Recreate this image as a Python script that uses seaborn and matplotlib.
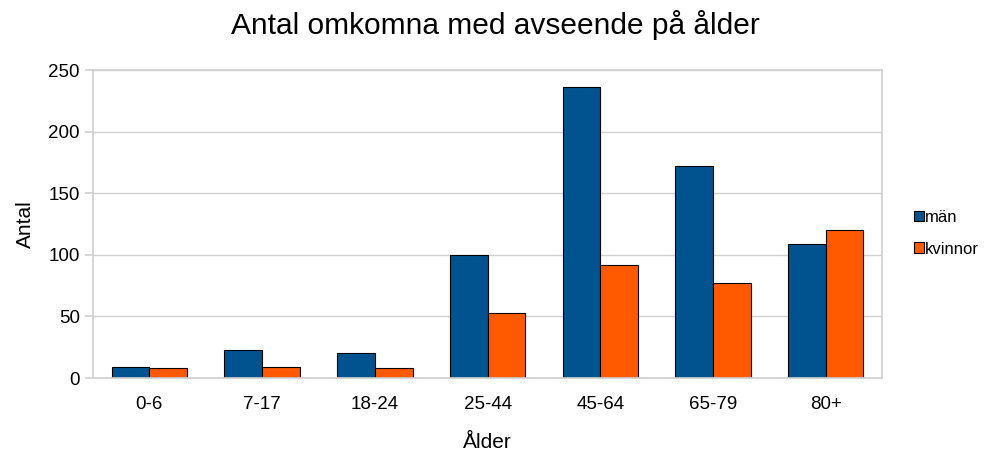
import pandas as pd
import matplotlib.pyplot as plt
import seaborn as sns
from matplotlib.patches import Patch

ages = ['0-6', '7-17', '18-24', '25-44', '45-64', '65-79', '80+']
man = [9, 23, 20, 100, 236, 172, 109]
kvinnor = [8, 9, 8, 53, 92, 77, 120]
series = ['män', 'kvinnor']
colors = {'män': '#00538f', 'kvinnor': '#ff5a00'}

data = pd.DataFrame({'Ålder': ages * 2,
                     'Antal': man + kvinnor,
                     'Kön': ['män'] * len(ages) + ['kvinnor'] * len(ages)})

sns.set_style('white')
plt.rcParams['font.family'] = ['Liberation Sans', 'DejaVu Sans']
plt.rcParams['text.color'] = 'black'
plt.rcParams['axes.labelcolor'] = 'black'

fig = plt.figure(figsize=(9.9, 4.55), dpi=100)
ax = fig.add_axes([0.094, 0.169, 0.797, 0.677])

sns.barplot(data=data, x='Ålder', y='Antal', hue='Kön', order=ages,
            hue_order=series, palette=colors, width=0.67, dodge=True,
            edgecolor='black', linewidth=0.8, saturation=1, legend=False, ax=ax)

ax.set_ylim(0, 250)
ax.set_xlim(-0.5, len(ages) - 0.5)
ax.set_yticks([0, 50, 100, 150, 200, 250])
ax.yaxis.grid(True, color='#d0d0d0', linewidth=1)
ax.set_axisbelow(True)
for s in ax.spines.values():
    s.set_color('#d0d0d0')
    s.set_linewidth(1.2)

# category boundary ticks like the original
ax.set_xticks([i - 0.5 for i in range(len(ages) + 1)], minor=True)
ax.tick_params(axis='x', which='major', length=0, labelsize=13.5, pad=13, labelcolor='black')
ax.tick_params(axis='x', which='minor', length=6, color='#d0d0d0', width=1.2, direction='out')
ax.tick_params(axis='y', length=6, color='#d0d0d0', width=1.2, labelsize=13.5,
               direction='out', left=True, labelcolor='black')

ax.set_xlabel('Ålder', fontsize=15, labelpad=14)
ax.set_ylabel('Antal', fontsize=15, labelpad=10)
fig.suptitle('Antal omkomna med avseende på ålder', fontsize=21.5, y=0.978)

handles = [Patch(facecolor=colors[s], edgecolor='black', linewidth=0.8, label=s) for s in series]
ax.legend(handles=handles, loc='center left', bbox_to_anchor=(1.022, 0.47),
          frameon=False, fontsize=12, handlelength=0.55, handleheight=0.6,
          handletextpad=0.1, labelspacing=1.0)

fig.savefig('out.png', dpi=100)
